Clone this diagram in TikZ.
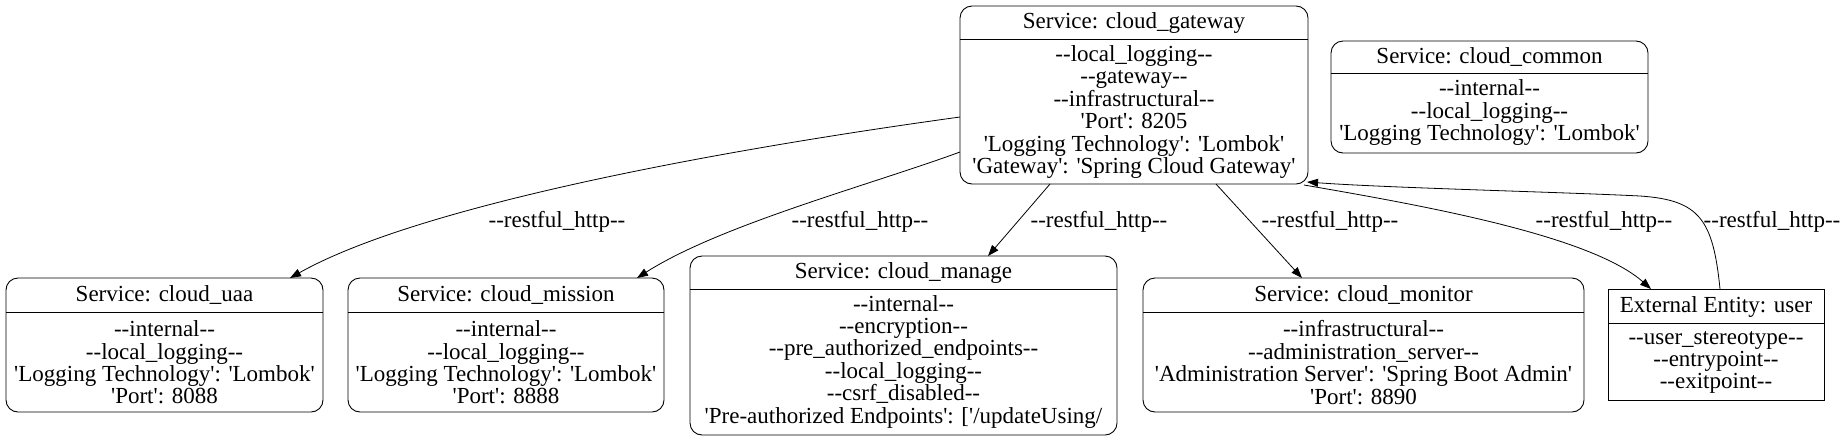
\documentclass[tikz,border=0pt]{standalone}
\usepackage{fontspec}
\setmainfont{Liberation Serif}[Ligatures=TeXOff]
\usetikzlibrary{arrows.meta}
\begin{document}
\begin{tikzpicture}[x=1pt,y=-1pt,
  font=\fontsize{23}{22.4}\selectfont,
  svc/.style={draw, rounded corners=12pt, line width=0.9pt, inner sep=0pt, outer sep=0pt},
  ext/.style={draw, line width=0.9pt, inner sep=0pt, outer sep=0pt},
  hdr/.style={line width=0.9pt},
  txt/.style={align=center, inner sep=0pt},
  lbl/.style={inner sep=0pt},
  flow/.style={line width=0.8pt, -{Triangle[length=11pt,width=8pt]}}]
\useasboundingbox (0,0) rectangle (1843,440);

% boxes
\node[svc, minimum width=348pt, minimum height=178pt] (gateway) at (1134,95) {};
\node[svc, minimum width=317pt, minimum height=112pt] (common) at (1489.5,97) {};
\node[svc, minimum width=317pt, minimum height=134pt] (uaa) at (164.5,345) {};
\node[svc, minimum width=316pt, minimum height=134pt] (mission) at (506,345) {};
\node[svc, minimum width=427pt, minimum height=179pt] (manage) at (903.5,345.5) {};
\node[svc, minimum width=441pt, minimum height=134pt] (monitor) at (1363.5,345) {};
\node[ext, minimum width=216pt, minimum height=111pt] (user) at (1716,344.5) {};

% header lines
\draw[hdr] (gateway.west |- 0,39) -- (gateway.east |- 0,39);
\draw[hdr] (common.west |- 0,73) -- (common.east |- 0,73);
\draw[hdr] (uaa.west |- 0,312) -- (uaa.east |- 0,312);
\draw[hdr] (mission.west |- 0,312) -- (mission.east |- 0,312);
\draw[hdr] (manage.west |- 0,289) -- (manage.east |- 0,289);
\draw[hdr] (monitor.west |- 0,312) -- (monitor.east |- 0,312);
\draw[hdr] (user.west |- 0,323) -- (user.east |- 0,323);

% texts
\node[txt] (gatewayt) at (1134,23) {Service: cloud\_gateway};
\node[txt] (gatewayb) at (1134,112) {--local\_logging--\\--gateway--\\--infrastructural--\\'Port': 8205\\'Logging Technology': 'Lombok'\\'Gateway': 'Spring Cloud Gateway'};
\node[txt] (commont) at (1489.5,57) {Service: cloud\_common};
\node[txt] (commonb) at (1489.5,112.5) {--internal--\\--local\_logging--\\'Logging Technology': 'Lombok'};
\node[txt] (uaat) at (164.5,295) {Service: cloud\_uaa};
\node[txt] (uaab) at (164.5,362.5) {--internal--\\--local\_logging--\\'Logging Technology': 'Lombok'\\'Port': 8088};
\node[txt] (missiont) at (506,295) {Service: cloud\_mission};
\node[txt] (missionb) at (506,362.5) {--internal--\\--local\_logging--\\'Logging Technology': 'Lombok'\\'Port': 8888};
\node[txt] (managet) at (903.5,273) {Service: cloud\_manage};
\node[txt] (manageb) at (903.5,361.5) {--internal--\\--encryption--\\--pre\_authorized\_endpoints--\\--local\_logging--\\--csrf\_disabled--\\'Pre-authorized Endpoints': ['/updateUsing/};
\node[txt] (monitort) at (1363.5,295) {Service: cloud\_monitor};
\node[txt] (monitorb) at (1363.5,362.5) {--infrastructural--\\--administration\_server--\\'Administration Server': 'Spring Boot Admin'\\'Port': 8890};
\node[txt] (usert) at (1716,307) {External Entity: user};
\node[txt] (userb) at (1716,362.5) {--user\_stereotype--\\--entrypoint--\\--exitpoint--};

% connectors
\draw[flow] ([yshift=-22pt]gateway.west) .. controls (720,150) and (420,205) .. ([xshift=125.5pt]uaa.north);
\draw[flow] ([yshift=-57pt]gateway.west) .. controls (870,185) and (720,225) .. ([xshift=131pt]mission.north);
\draw[flow] ([xshift=-84pt]gateway.south) -- ([xshift=84.5pt]manage.north);
\draw[flow] ([xshift=82pt]gateway.south) -- ([xshift=-61.5pt]monitor.north);
\draw[flow] ([xshift=-4pt,yshift=-1pt]gateway.south east) .. controls (1420,205) and (1590,235) .. ([xshift=-65pt]user.north);
\draw[flow] ([xshift=4pt]user.north) .. controls (1713,220) and (1700,200) .. (1640,196) .. controls (1560,192) and (1390,188) .. ([xshift=-1pt,yshift=2pt]gateway.south east);

% labels
\node[lbl] (l1) at (557,222) {--restful\_http--};
\node[lbl] (l2) at (860,222) {--restful\_http--};
\node[lbl] (l3) at (1099,222) {--restful\_http--};
\node[lbl] (l4) at (1330,222) {--restful\_http--};
\node[lbl] (l5) at (1604,222) {--restful\_http--};
\node[lbl] (l6) at (1772,222) {--restful\_http--};
\end{tikzpicture}
\end{document}
